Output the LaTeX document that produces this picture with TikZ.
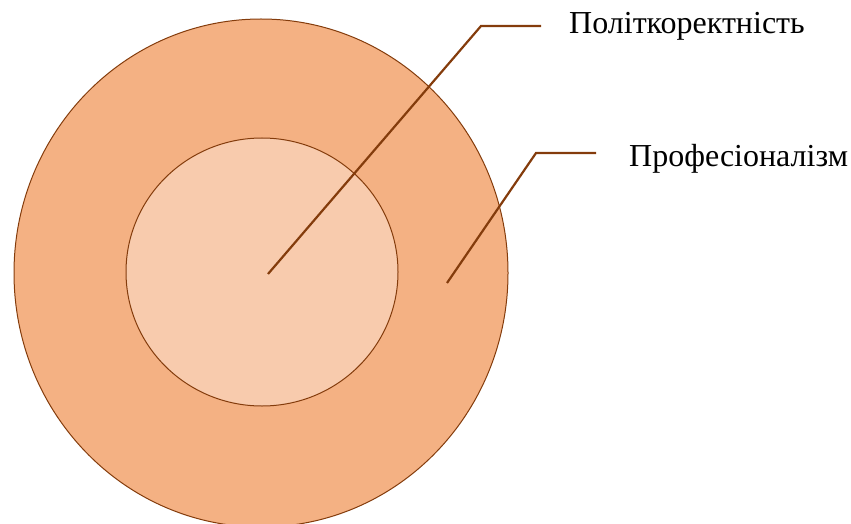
\documentclass[tikz,border=0pt]{standalone}
\usepackage{fontspec}
\setmainfont{Liberation Serif}
\definecolor{outerfill}{HTML}{F4B183}
\definecolor{innerfill}{HTML}{F8CBAD}
\definecolor{edge}{HTML}{843C0C}
\tikzset{
  ring/.style={draw=edge, line width=1pt},
  leader/.style={draw=edge, line width=2.2pt},
  lbl/.style={anchor=base west, inner sep=0pt, font=\fontsize{32}{36}\selectfont, text=black}
}
\begin{document}
\begin{tikzpicture}[x=1pt,y=-1pt]
\useasboundingbox (0,0) rectangle (851,524);
\draw[ring, fill=outerfill] (261,273) ellipse [x radius=247, y radius=254];
\draw[ring, fill=innerfill] (262,272) ellipse [x radius=136, y radius=134];
\node[lbl] (t1) at (569,34) {Політкоректність};
\node[lbl] (t2) at (629,166) {Професіоналізм};
\coordinate (s1) at (268,274);
\coordinate (c1) at (481,26);
\coordinate (e1) at (541,26);
\coordinate (s2) at (447,283);
\coordinate (c2) at (536,153);
\coordinate (e2) at (596,153);
\draw[leader] (s1) -- (c1) -- (e1);
\draw[leader] (s2) -- (c2) -- (e2);
\end{tikzpicture}
\end{document}
